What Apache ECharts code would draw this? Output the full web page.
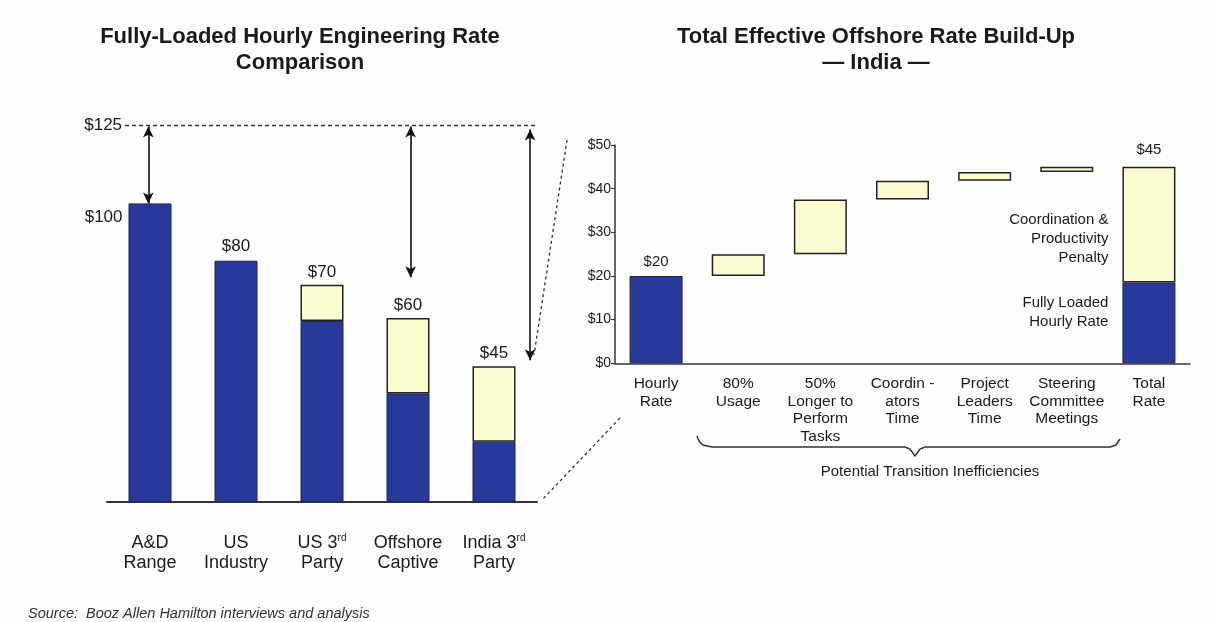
<!DOCTYPE html>
<html><head><meta charset="utf-8">
<script src="https://cdn.jsdelivr.net/npm/echarts@6/dist/echarts.min.js"></script>
<style>html,body{margin:0;padding:0;background:#fff}#c{width:1212px;height:622px}</style>
</head><body><div id="c"></div>
<script>
// ---- Left chart data ----
const leftCategories = ['A&D\nRange', 'US\nIndustry', 'US 3rd\nParty', 'Offshore\nCaptive', 'India 3rd\nParty'];
const leftFullyLoaded = [99, 80, 60, 36, 20];
const leftPenalty = ['-', '-', 12, 25, 25];
const leftValueLabels = ['$100', '$80', '$70', '$60', '$45'];
const leftReference = 125;
const leftReferenceLabel = '$125';
// arrows: [position in category bands, from value, to value]
const leftArrows = [[0.48, 124.5, 99], [3.53, 124.5, 74.5], [4.92, 123.5, 47]];

// ---- Right chart data ----
const rightCategories = ['Hourly\nRate', '80%\nUsage', '50%\nLonger to\nPerform\nTasks', 'Coordin -\nators\nTime', 'Project\nLeaders\nTime', 'Steering\nCommittee\nMeetings', 'Total\nRate'];
const hourlyRate = 20;
const inefficiencySteps = [5, 12.5, 4.3, 2.0, 1.2];
const totalFullyLoaded = 18.5;
const totalRate = 45;
const rightTicks = [0, 10, 20, 30, 40, 50];

const BLUE = '#28399a', YELLOW = '#fbfbd2', EDGE = '#222', TXT = '#1a1a1a';
const FONT = 'Liberation Sans, Arial, Helvetica, sans-serif';

// build waterfall arrays
const n = rightCategories.length;
const wfBase = [], wfBlue = [], wfYellow = [];
let run = hourlyRate;
for (let i = 0; i < n; i++) {
  if (i === 0) { wfBase.push('-'); wfBlue.push(hourlyRate); wfYellow.push('-'); }
  else if (i === n - 1) { wfBase.push('-'); wfBlue.push(totalFullyLoaded); wfYellow.push(+(totalRate - totalFullyLoaded).toFixed(2)); }
  else { const s = inefficiencySteps[i - 1]; wfBase.push(+run.toFixed(2)); wfBlue.push('-'); wfYellow.push(s); run += s; }
}

const chart = echarts.init(document.getElementById('c'), null, {renderer: 'canvas'});

const leftBlueData = leftFullyLoaded.map((v, i) => {
  const o = {value: v};
  if (i === 0) o.label = {show: true, formatter: leftValueLabels[0], position: [-6, 14], align: 'right', verticalAlign: 'middle'};
  else if (leftPenalty[i] === '-') o.label = {show: true, formatter: leftValueLabels[i], position: 'top', distance: 6};
  return o;
});
const leftYellowData = leftPenalty.map((v, i) => {
  const o = {value: v};
  if (v !== '-') o.label = {show: true, formatter: leftValueLabels[i], position: 'top', distance: 4};
  return o;
});

const rightBlueData = wfBlue.map((v, i) => {
  const o = {value: v};
  if (i === 0) o.label = {show: true, formatter: '$' + hourlyRate, position: 'top', distance: 7};
  if (i === n - 1) o.label = {show: true, formatter: 'Fully Loaded\nHourly Rate', position: 'left', distance: 14, offset: [0, -11], align: 'right', lineHeight: 19};
  return o;
});
const rightYellowData = wfYellow.map((v, i) => {
  const o = {value: v};
  if (i === n - 1) o.label = {show: true, formatter: 'Coordination &\nProductivity\nPenalty', position: 'left', distance: 14, offset: [0, 14], align: 'right', lineHeight: 19};
  return o;
});

const arrowLines = leftArrows.map(a => [
  {coord: [a[0], a[1]], symbol: 'arrow', symbolSize: [8, 11], lineStyle: {type: 'solid', color: '#111', width: 1.6}, label: {show: false}},
  {coord: [a[0], a[2]], symbol: 'arrow', symbolSize: [8, 11]}
]);

const option = {
  backgroundColor: '#fdfdfd',
  textStyle: {fontFamily: FONT, color: TXT},
  animation: false,
  grid: [
    {left: 107, width: 430, top: 125, height: 377},
    {left: 615, width: 575, top: 145, height: 218.3}
  ],
  xAxis: [
    {type: 'category', gridIndex: 0, data: leftCategories,
      axisLine: {show: true, lineStyle: {color: '#333', width: 2}}, axisTick: {show: false},
      axisLabel: {interval: 0, margin: 31, color: TXT, fontSize: 18, lineHeight: 20, fontFamily: FONT,
        formatter: v => v.replace('3rd', '3{sup|rd}'),
        rich: {sup: {fontSize: 10, verticalAlign: 'top', lineHeight: 20, color: TXT}}}},
    {type: 'value', gridIndex: 0, min: 0, max: 5, show: false},
    {type: 'category', gridIndex: 1, data: rightCategories,
      axisLine: {show: true, lineStyle: {color: '#333', width: 1.5}}, axisTick: {show: false},
      axisLabel: {interval: 0, margin: 12, color: TXT, fontSize: 15.5, lineHeight: 17.5, fontFamily: FONT}}
  ],
  yAxis: [
    {type: 'value', gridIndex: 0, min: 0, max: 130, show: false, splitLine: {show: false}},
    {type: 'value', gridIndex: 1, min: rightTicks[0], max: rightTicks[rightTicks.length - 1], interval: 10,
      axisLine: {show: true, lineStyle: {color: '#333', width: 1.5}},
      axisTick: {show: true, length: 4, lineStyle: {color: '#333', width: 1.2}},
      splitLine: {show: false},
      axisLabel: {formatter: '${value}', color: TXT, fontSize: 14, margin: 4, fontFamily: FONT}}
  ],
  series: [
    {type: 'bar', name: 'Fully loaded', xAxisIndex: 0, yAxisIndex: 0, stack: 'L', barWidth: 43,
      itemStyle: {color: BLUE, borderColor: '#1b2458', borderWidth: 1},
      label: {color: TXT, fontSize: 17, fontFamily: FONT},
      data: leftBlueData},
    {type: 'bar', name: 'Penalty', xAxisIndex: 0, yAxisIndex: 0, stack: 'L', barWidth: 43,
      itemStyle: {color: YELLOW, borderColor: EDGE, borderWidth: 1.5},
      label: {color: TXT, fontSize: 17, fontFamily: FONT},
      data: leftYellowData},
    {type: 'scatter', name: 'annot', xAxisIndex: 1, yAxisIndex: 0, data: [], silent: true,
      markLine: {silent: true, animation: false,
        data: [
          [{coord: [0.21, leftReference], symbol: 'none', lineStyle: {type: [4, 3], color: '#333', width: 1.3},
            label: {show: true, position: 'start', formatter: leftReferenceLabel, distance: 3, color: TXT, fontSize: 17, fontFamily: FONT}},
           {coord: [5, leftReference], symbol: 'none'}]
        ].concat(arrowLines)
      }},
    {type: 'bar', name: 'base', xAxisIndex: 2, yAxisIndex: 1, stack: 'R', barWidth: 53, silent: true,
      itemStyle: {color: 'rgba(0,0,0,0)'}, data: wfBase},
    {type: 'bar', name: 'Fully loaded hourly rate', xAxisIndex: 2, yAxisIndex: 1, stack: 'R', barWidth: 53,
      itemStyle: {color: BLUE, borderColor: '#1b2458', borderWidth: 1},
      label: {color: TXT, fontSize: 15, fontFamily: FONT},
      data: rightBlueData},
    {type: 'bar', name: 'Coordination & productivity penalty', xAxisIndex: 2, yAxisIndex: 1, stack: 'R', barWidth: 53,
      itemStyle: {color: YELLOW, borderColor: EDGE, borderWidth: 1.5},
      label: {color: TXT, fontSize: 15, fontFamily: FONT},
      markPoint: {symbol: 'rect', symbolSize: 0, silent: true,
        data: [{coord: [n - 1, totalRate], value: totalRate,
          label: {show: true, position: 'top', distance: 9, formatter: '$' + totalRate, color: TXT, fontSize: 15, fontFamily: FONT}}]},
      data: rightYellowData}
  ],
  graphic: [
    {type: 'text', silent: true, x: 300, y: 24, style: {text: 'Fully-Loaded Hourly Engineering Rate\nComparison', align: 'center', verticalAlign: 'top', font: 'bold 22px ' + FONT, lineHeight: 26, fill: TXT}},
    {type: 'text', silent: true, x: 876, y: 24, style: {text: 'Total Effective Offshore Rate Build-Up\n\u2014 India \u2014', align: 'center', verticalAlign: 'top', font: 'bold 22px ' + FONT, lineHeight: 26, fill: TXT}},
    {type: 'polyline', silent: true,
      shape: {points: [[697,436],[699,441],[703,445],[712,447],[905,447],[910,449],[915,456],[920,449],[925,447],[1110,447],[1116,445],[1120,439]]},
      style: {fill: null, stroke: '#333', lineWidth: 1.5}},
    {type: 'text', silent: true, x: 930, y: 472, style: {text: 'Potential Transition Inefficiencies', align: 'center', verticalAlign: 'middle', font: '15px ' + FONT, fill: TXT}},
    {type: 'line', silent: true, shape: {x1: 567, y1: 140, x2: 534, y2: 355}, style: {stroke: '#333', lineWidth: 1.3, lineDash: [3, 3]}},
    {type: 'line', silent: true, shape: {x1: 620, y1: 418, x2: 542, y2: 500}, style: {stroke: '#333', lineWidth: 1.3, lineDash: [3, 3]}},
    {type: 'text', silent: true, x: 28, y: 614, style: {text: 'Source:  Booz Allen Hamilton interviews and analysis', align: 'left', verticalAlign: 'middle', font: 'italic 14.5px ' + FONT, fill: '#333'}}
  ]
};
// left value axis spans 0..130 so the $125 reference line sits inside the grid; keep pixel scale by extending grid upward
option.grid[0].top = 125 - 377 * 5 / 125;
option.grid[0].height = 377 + 377 * 5 / 125;
chart.setOption(option);
</script></body></html>
